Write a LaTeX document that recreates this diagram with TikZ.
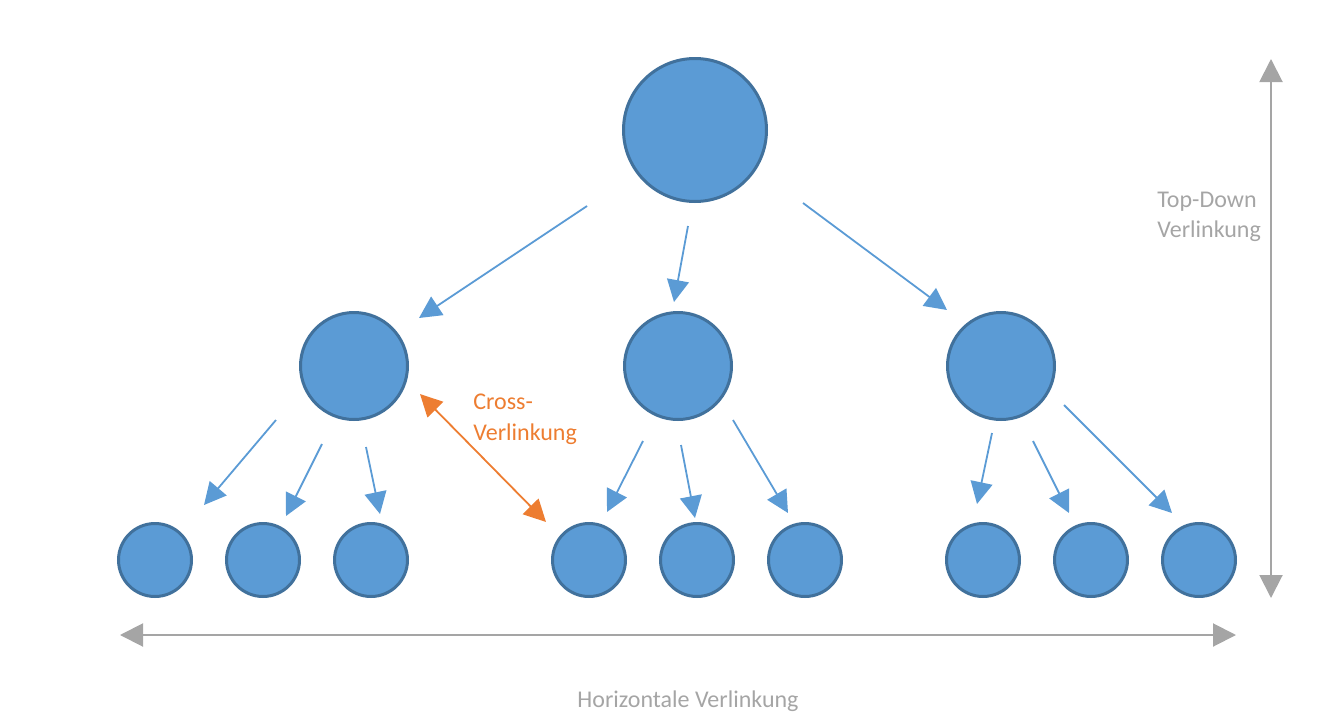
\documentclass[tikz,border=0pt]{standalone}
\usepackage{fontspec}
\setmainfont{Carlito}
\usetikzlibrary{arrows.meta}
\definecolor{nodefill}{HTML}{5B9BD5}
\definecolor{nodeline}{HTML}{41719C}
\definecolor{linkblue}{HTML}{5B9BD5}
\definecolor{crossorange}{HTML}{ED7D31}
\definecolor{axisgrey}{HTML}{A5A5A5}
\tikzset{
  bubble/.style={circle, draw=nodeline, fill=nodefill, line width=1.5pt, inner sep=0pt},
  bigbubble/.style={bubble, minimum size=71.5pt},
  midbubble/.style={bubble, minimum size=53.5pt},
  smallbubble/.style={bubble, minimum size=36.5pt},
  link/.style={draw=linkblue, line width=0.9pt, -{Triangle[length=11pt,width=11pt]}},
  crosslink/.style={draw=crossorange, line width=0.9pt, {Triangle[length=11pt,width=11pt]}-{Triangle[length=11pt,width=11pt]}},
  axis/.style={draw=axisgrey, line width=1pt, {Triangle[length=11.5pt,width=11.5pt]}-{Triangle[length=11.5pt,width=11.5pt]}},
  axislabel/.style={text=axisgrey, font=\fontsize{12pt}{15pt}\selectfont, inner sep=0pt},
  crosslabel/.style={text=crossorange, font=\fontsize{12pt}{15pt}\selectfont, inner sep=0pt},
}
\begin{document}
\begin{tikzpicture}[x=0.5pt, y=-0.5pt]
\useasboundingbox (0,0) rectangle (1319,723);
% nodes
\node[bigbubble] (top) at (695,130) {};
\node[midbubble] (m1) at (354,366) {};
\node[midbubble] (m2) at (678,366) {};
\node[midbubble] (m3) at (1001,366) {};
\foreach \x [count=\i] in {155,263,371,589,697,805,983,1091,1199}
  \node[smallbubble] (b\i) at (\x,560) {};
% arrow endpoints
\coordinate (t1s) at (587,206); \coordinate (t1e) at (419,318);
\coordinate (t2s) at (688,226); \coordinate (t2e) at (674,302);
\coordinate (t3s) at (803,203); \coordinate (t3e) at (947,310);
\coordinate (a1s) at (276,420); \coordinate (a1e) at (204,505);
\coordinate (a2s) at (322,444); \coordinate (a2e) at (286,516);
\coordinate (a3s) at (366,447); \coordinate (a3e) at (380,514);
\coordinate (a4s) at (643,441); \coordinate (a4e) at (607,512);
\coordinate (a5s) at (681,445); \coordinate (a5e) at (695,518);
\coordinate (a6s) at (733,420); \coordinate (a6e) at (788,513);
\coordinate (a7s) at (992,433); \coordinate (a7e) at (977,504);
\coordinate (a8s) at (1033,441); \coordinate (a8e) at (1069,513);
\coordinate (a9s) at (1064,405); \coordinate (a9e) at (1172,513);
\coordinate (cs) at (420,394); \coordinate (ce) at (546,522);
\coordinate (vt) at (1271,59); \coordinate (vb) at (1271,598);
\coordinate (hl) at (120,635); \coordinate (hr) at (1236,635);
% links
\foreach \s/\e in {t1s/t1e,t2s/t2e,t3s/t3e,a1s/a1e,a2s/a2e,a3s/a3e,a4s/a4e,a5s/a5e,a6s/a6e,a7s/a7e,a8s/a8e,a9s/a9e}
  \draw[link] (\s) -- (\e);
\draw[crosslink] (cs) -- (ce);
\draw[axis] (vt) -- (vb);
\draw[axis] (hl) -- (hr);
% labels
\node[crosslabel, anchor=base west] (cl1) at (473,409) {Cross-};
\node[crosslabel, anchor=base west] (cl2) at (473,440) {Verlinkung};
\node[axislabel, anchor=base west] (tl1) at (1157,207) {Top-Down};
\node[axislabel, anchor=base west] (tl2) at (1157,237) {Verlinkung};
\node[axislabel, anchor=base] (hl1) at (688,707) {Horizontale Verlinkung};
\end{tikzpicture}
\end{document}
